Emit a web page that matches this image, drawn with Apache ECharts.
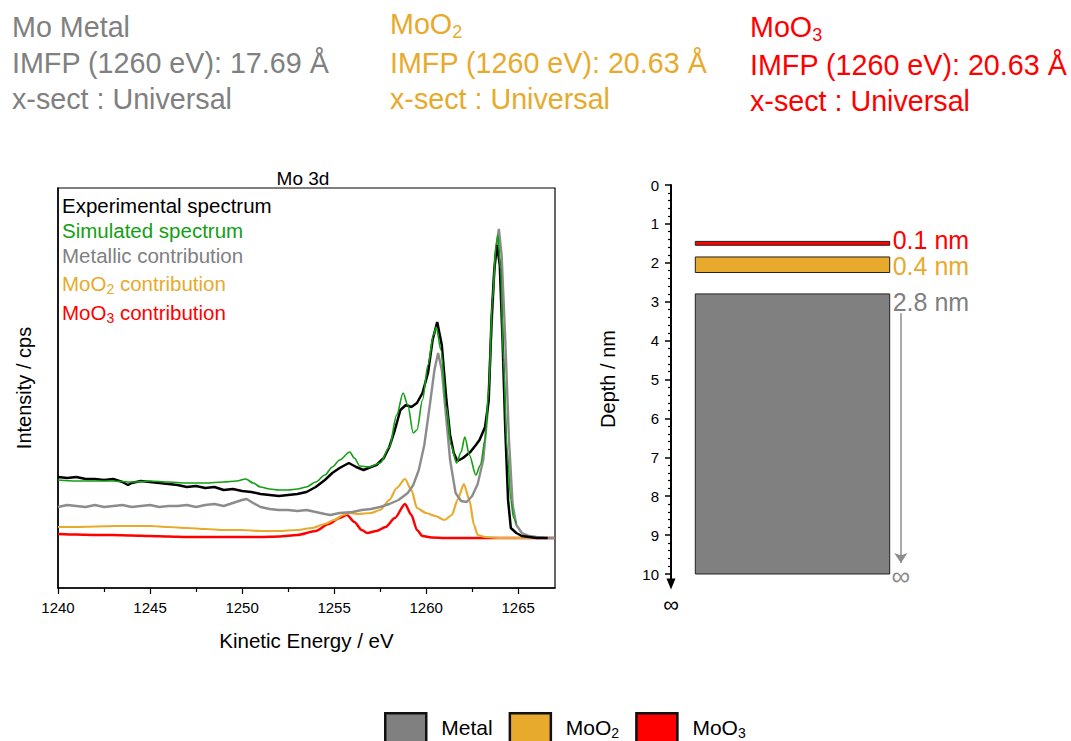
<!DOCTYPE html>
<html>
<head>
<meta charset="utf-8">
<script src="https://cdn.jsdelivr.net/npm/echarts@6/dist/echarts.min.js"></script>
<style>
html,body{margin:0;padding:0;background:#fff;}
#c{width:1071px;height:741px;}
</style>
</head>
<body>
<div id="c"></div>
<script>
// ---------------- DATA ----------------
// Kinetic energy (eV) / intensity (arbitrary units) pairs
const experimental = [[1240,111],[1240.5,110],[1241,111],[1241.5,109],[1242,109],[1242.5,108],[1243,109],[1243.5,106],[1243.8,103],[1244,105],[1244.5,107],[1245,106],[1245.5,105],[1246,104],[1246.5,103],[1247,101],[1247.5,102],[1248,100],[1248.5,101],[1249,98],[1249.5,99],[1250,97],[1250.5,96],[1251,94],[1251.5,93],[1252,92],[1252.5,93],[1253,94],[1253.5,96],[1254,101],[1254.5,108],[1254.9,115],[1255.3,120],[1255.8,125],[1256.2,121],[1256.6,118],[1257,121],[1257.3,123],[1257.7,130],[1258,141],[1258.3,158],[1258.6,178],[1258.9,183],[1259.2,181],[1259.5,185],[1259.8,195],[1260.1,215],[1260.35,248],[1260.6,266],[1260.85,243],[1261.1,188],[1261.3,153],[1261.5,135],[1261.7,127],[1262,130],[1262.4,136],[1262.7,143],[1262.9,148],[1263.2,161],[1263.4,188],[1263.55,268],[1263.7,318],[1263.85,343],[1264,323],[1264.15,248],[1264.3,158],[1264.45,88],[1264.6,60],[1264.9,55],[1265.2,52],[1265.6,51],[1266,50],[1266.6,50]];
const simulated = [[1240,108],[1241,107],[1242,107],[1243,107],[1244,106],[1245,107],[1246,106],[1247,105],[1248,105],[1249,106],[1249.7,107],[1250.2,109],[1250.6,105],[1251,101],[1251.5,99],[1252,98],[1252.5,98],[1253,99],[1253.5,101],[1254,106],[1254.5,113],[1254.9,121],[1255.3,128],[1255.85,136],[1256.1,130],[1256.4,122],[1256.9,121],[1257.5,125],[1258,141],[1258.4,173],[1258.75,195],[1259,183],[1259.3,155],[1259.5,158],[1259.8,188],[1260.1,223],[1260.4,253],[1260.55,261],[1260.8,238],[1261.1,181],[1261.35,143],[1261.65,125],[1261.9,136],[1262.1,151],[1262.35,133],[1262.7,113],[1262.95,123],[1263.2,148],[1263.4,198],[1263.6,288],[1263.8,343],[1263.9,353],[1264.05,318],[1264.2,228],[1264.4,138],[1264.6,88],[1264.75,70],[1264.9,64]];
const metallic = [[1240,81],[1240.5,83],[1241,82],[1241.5,81],[1242,83],[1242.5,81],[1243,82],[1243.5,83],[1244,81],[1244.5,82],[1245,83],[1245.5,81],[1246,82],[1246.5,82],[1247,83],[1247.5,81],[1248,83],[1248.5,84],[1249,82],[1249.5,85],[1250,88],[1250.25,89],[1250.6,85],[1251,81],[1251.5,79],[1252,78],[1252.5,78],[1253,77],[1253.5,78],[1254,76],[1254.5,74],[1254.8,73],[1255.3,75],[1256,76],[1256.5,78],[1257,79],[1257.5,81],[1258,84],[1258.5,88],[1259,95],[1259.3,103],[1259.6,118],[1259.9,143],[1260.2,183],[1260.45,218],[1260.65,235],[1260.85,218],[1261.05,178],[1261.3,128],[1261.6,95],[1261.9,87],[1262.2,86],[1262.5,92],[1262.8,104],[1263.1,128],[1263.35,178],[1263.55,258],[1263.75,333],[1263.95,359],[1264.1,333],[1264.3,248],[1264.5,148],[1264.7,83],[1264.9,63],[1265.2,55],[1265.6,52],[1266,51],[1266.5,50],[1267,50]];
const moo2Contribution = [[1240,61],[1241,61],[1242,61.5],[1243,62],[1244,62],[1245,62],[1246,61],[1247,60],[1248,59],[1249,58],[1250,58],[1251,57],[1252,57],[1253,58],[1253.8,60],[1254.5,64],[1255,68],[1255.5,73],[1255.8,75],[1256.3,74],[1257,75],[1257.5,78],[1258,88],[1258.4,100],[1258.85,109],[1259.2,98],[1259.5,80],[1260,75],[1260.5,72],[1261,68],[1261.4,73],[1261.7,88],[1262.05,104],[1262.35,88],[1262.6,63],[1262.8,53],[1263.2,51],[1264,50],[1265,50],[1266,50],[1267,50]];
const moo3Contribution = [[1240,54],[1241,53.5],[1242,53],[1243,53],[1244,52.5],[1245,52],[1246,51.5],[1247,51],[1248,51],[1249,51],[1250,51],[1251,51],[1252,51.5],[1253,53],[1254,57],[1254.7,64],[1255.3,70],[1255.7,73],[1256.1,66],[1256.5,58],[1256.8,55],[1257.3,57],[1257.8,61],[1258.3,70],[1258.85,84],[1259.2,73],[1259.5,58],[1259.8,52],[1260.3,50.5],[1261,50],[1263,50],[1265,50],[1267,50]];

const energyMajorTicks = [1240, 1245, 1250, 1255, 1260, 1265];
const depthMajorTicks = [0,1,2,3,4,5,6,7,8,9,10];

// Layer model (depth, nm)
const layerNames = ['Metal', 'MoO2', 'MoO3'];
const layerTop = [2.8, 1.85, 1.45];
const layerBottom = [10, 2.25, 1.55];
const layerLabels = ['2.8 nm', '0.4 nm', '0.1 nm'];
const layerLabelDepth = [3.0, 2.08, 1.41];
const metalArrowDepth = [3.3, 9.72];
const depthAxisEnd = [10, 10.4];   // axis arrow continues below 10 nm towards infinity

// Text blocks
const headerMetal = ['Mo Metal', 'IMFP (1260 eV): 17.69 Å', 'x-sect : Universal'];
const headerMoO2 = ['MoO|2', 'IMFP (1260 eV): 20.63 Å', 'x-sect : Universal'];
const headerMoO3 = ['MoO|3', 'IMFP (1260 eV): 20.63 Å', 'x-sect : Universal'];
const spectrumLegend = ['Experimental spectrum', 'Simulated spectrum', 'Metallic contribution', 'MoO|2| contribution', 'MoO|3| contribution'];

// ---------------- STYLE ----------------
const FONT = 'Liberation Sans, Arial, sans-serif';
const C_GRAY = '#808080', C_LINEGRAY = '#8c8c8c', C_ORANGE = '#E8AA2C', C_RED = '#FF0000', C_GREEN = '#12A012', C_BLACK = '#000000';
const layerColors = [C_GRAY, C_ORANGE, C_RED];
const layerTextColors = [C_GRAY, C_ORANGE, C_RED];

function richText(str, color, size, subSize, x, y, lineH) {
  const parts = str.split('|');
  let t = '';
  parts.forEach((p, i) => { if (p.length) t += (i % 2 ? '{s|' : '{m|') + p + '}'; });
  return {
    type: 'text', x: x, y: y, silent: true,
    style: {
      text: t, align: 'left', verticalAlign: 'middle',
      rich: {
        m: { fontSize: size, fontFamily: FONT, fill: color, lineHeight: lineH, verticalAlign: 'middle' },
        s: { fontSize: subSize, fontFamily: FONT, fill: color, lineHeight: Math.round(subSize * 0.8), verticalAlign: 'bottom' }
      }
    }
  };
}

const graphics = [];
const hdrY = [27, 63, 99];
headerMetal.forEach((s, i) => graphics.push(richText(s, C_GRAY, 28.7, 18, 12, hdrY[i], 34)));
headerMoO2.forEach((s, i) => graphics.push(richText(s, C_ORANGE, 28.7, 18, 390, i === 0 ? 24 : hdrY[i], 34)));
headerMoO3.forEach((s, i) => graphics.push(richText(s, C_RED, 28.7, 18, 750, i === 0 ? 27 : hdrY[i] + 2, 34)));
const legColors = [C_BLACK, C_GREEN, C_GRAY, C_ORANGE, C_RED];
const legY = [205, 230, 255, 283, 312];
spectrumLegend.forEach((s, i) => graphics.push(richText(s, legColors[i], 20.5, 14, 62, legY[i], 25)));
graphics.push({ type: 'text', x: 303, y: 178, silent: true, style: { text: 'Mo 3d', fontSize: 19, fontFamily: FONT, fill: '#000', align: 'center', verticalAlign: 'middle' } });
graphics.push({ type: 'text', x: 608, y: 379, rotation: Math.PI / 2, silent: true, style: { text: 'Depth / nm', fontSize: 20, fontFamily: FONT, fill: '#000', align: 'center', verticalAlign: 'middle' } });

const chart = echarts.init(document.getElementById('c'), null, { renderer: 'svg' });

function lineSeries(name, data, color, width, z, smooth) {
  return { name: name, type: 'line', xAxisIndex: 0, yAxisIndex: 0, data: data, showSymbol: false, symbol: 'none',
    smooth: smooth, smoothMonotone: 'x',
    lineStyle: { color: color, width: width }, itemStyle: { color: color }, z: z, animation: false, silent: true };
}

function layerSeries(i) {
  return {
    name: layerNames[i], type: 'custom', xAxisIndex: 1, yAxisIndex: 1,
    itemStyle: { color: layerColors[i], borderColor: '#111', borderWidth: 1 },
    data: [[0.1, 0.9, layerTop[i], layerBottom[i]]],
    animation: false, silent: true, z: 5,
    renderItem: function (params, api) {
      const p0 = api.coord([api.value(0), api.value(2)]);
      const p1 = api.coord([api.value(1), api.value(3)]);
      const lp = api.coord([api.value(1), layerLabelDepth[i]]);
      return {
        type: 'group', children: [
          { type: 'rect', shape: { x: p0[0], y: p0[1], width: p1[0] - p0[0], height: p1[1] - p0[1] },
            style: { fill: layerColors[i], stroke: '#222', lineWidth: 1 } },
          { type: 'text', x: lp[0] + 3, y: lp[1],
            style: { text: layerLabels[i], fill: layerTextColors[i], fontSize: 25, fontFamily: FONT, align: 'left', verticalAlign: 'middle' } }
        ]
      };
    }
  };
}

const fmt = v => String(v);

const option = {
  backgroundColor: '#fff',
  animation: false,
  graphic: graphics,
  grid: [
    { left: 58, top: 188, width: 497, height: 400, show: true, borderColor: '#000', borderWidth: 1.2, backgroundColor: 'transparent' },
    { left: 671, top: 185, width: 243, height: 389, show: false }
  ],
  xAxis: [
    { type: 'value', gridIndex: 0, position: 'bottom', min: 1240, max: 1267, interval: 5,
      name: 'Kinetic Energy / eV', nameLocation: 'middle', nameGap: 42,
      nameTextStyle: { fontSize: 20.5, fontFamily: FONT, color: '#000' },
      axisLine: { show: true, lineStyle: { color: '#000', width: 1.5 } },
      axisTick: { show: true, length: 6, customValues: energyMajorTicks, lineStyle: { color: '#000', width: 1.2 } },
      minorTick: { show: true, splitNumber: 2, length: 4, lineStyle: { color: '#000', width: 1.2 } },
      axisLabel: { customValues: energyMajorTicks, formatter: fmt, fontSize: 15, fontFamily: FONT, color: '#000', margin: 12 },
      splitLine: { show: false }, minorSplitLine: { show: false } },
    { type: 'value', gridIndex: 1, min: 0, max: 1, show: false }
  ],
  yAxis: [
    { type: 'value', gridIndex: 0, min: 0, max: 400,
      name: 'Intensity / cps', nameLocation: 'middle', nameGap: 24,
      nameTextStyle: { fontSize: 20, fontFamily: FONT, color: '#000' },
      axisLine: { show: true, lineStyle: { color: '#000', width: 1.5 } },
      axisTick: { show: false }, axisLabel: { show: false }, splitLine: { show: false } },
    { type: 'value', gridIndex: 1, position: 'left', min: 0, max: 10, inverse: true, interval: 1,
      name: '∞', nameLocation: 'end', nameGap: 19,
      nameTextStyle: { fontSize: 22, fontFamily: FONT, color: '#000', verticalAlign: 'top', align: 'center' },
      axisLine: { show: true, lineStyle: { color: '#000', width: 2 } },
      axisTick: { show: true, length: 6, lineStyle: { color: '#000', width: 1.5 } },
      minorTick: { show: true, splitNumber: 5, length: 3, lineStyle: { color: '#000', width: 1.2 } },
      axisLabel: { formatter: fmt, fontSize: 15, fontFamily: FONT, color: '#000', margin: 12 },
      splitLine: { show: false }, minorSplitLine: { show: false } }
  ],
  legend: {
    data: ['Metal', 'MoO2', 'MoO3'],
    left: 384, top: 712, orient: 'horizontal', padding: 0,
    itemWidth: 41, itemHeight: 30, itemGap: 16, icon: 'rect',
    itemStyle: { borderColor: '#111', borderWidth: 2.5 },
    selectedMode: false,
    formatter: function (name) {
      if (name === 'MoO2') return '{t|MoO}{s|2}';
      if (name === 'MoO3') return '{t|MoO}{s|3}';
      return '{t|' + name + '}';
    },
    textStyle: {
      padding: [0, 0, 1, 10],
      rich: {
        t: { fontSize: 21, fontFamily: FONT, color: '#000', lineHeight: 24, verticalAlign: 'middle' },
        s: { fontSize: 14, fontFamily: FONT, color: '#000', lineHeight: 11, verticalAlign: 'bottom' }
      }
    }
  },
  series: [
    lineSeries('MoO3 contribution', moo3Contribution, C_RED, 2.5, 2, 0.25),
    lineSeries('MoO2 contribution', moo2Contribution, C_ORANGE, 2.2, 3, 0.25),
    lineSeries('Metallic contribution', metallic, C_LINEGRAY, 2.4, 4, 0),
    lineSeries('Experimental spectrum', experimental, C_BLACK, 2.5, 5, 0),
    lineSeries('Simulated spectrum', simulated, C_GREEN, 1.6, 6, 0.3),
    layerSeries(0), layerSeries(1), layerSeries(2),
    { name: 'depthAxisArrow', type: 'custom', xAxisIndex: 1, yAxisIndex: 1, clip: false,
      data: [[0, depthAxisEnd[0], depthAxisEnd[1]]], animation: false, silent: true, z: 6,
      renderItem: function (params, api) {
        const a = api.coord([api.value(0), api.value(1)]);
        const b = api.coord([api.value(0), api.value(2)]);
        const head = 11, half = 4.5;
        return { type: 'group', children: [
          { type: 'line', shape: { x1: a[0], y1: a[1], x2: b[0], y2: b[1] - head + 1 }, style: { stroke: '#000', lineWidth: 2 } },
          { type: 'polygon', shape: { points: [[b[0] - half, b[1] - head], [b[0] + half, b[1] - head], [b[0], b[1]]] }, style: { fill: '#000' } }
        ] };
      } },
    { name: 'metalArrow', type: 'line', xAxisIndex: 1, yAxisIndex: 1, data: [], silent: true, animation: false,
      markLine: {
        silent: true, animation: false, symbol: ['none', 'arrow'], symbolSize: 10,
        lineStyle: { color: C_LINEGRAY, width: 1.5, type: 'solid' },
        label: { show: true, position: 'end', formatter: '∞', color: C_LINEGRAY, fontSize: 26, fontFamily: FONT, distance: 0 },
        data: [[{ coord: [0.946, metalArrowDepth[0]] }, { coord: [0.946, metalArrowDepth[1]] }]]
      } }
  ]
};
chart.setOption(option);
</script>
</body>
</html>
